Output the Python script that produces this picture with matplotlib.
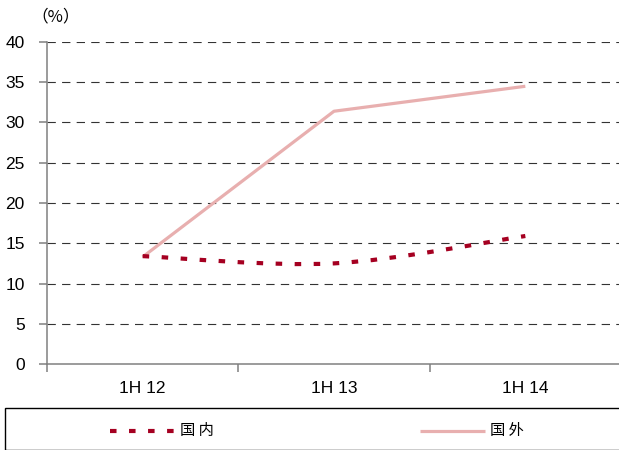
import matplotlib
matplotlib.use('Agg')
import matplotlib.pyplot as plt
from matplotlib.path import Path
from matplotlib.patches import PathPatch, Rectangle
from matplotlib.lines import Line2D

# dados
periodos = ['1H 12', '1H 13', '1H 14']
domestico = [13.4, 12.5, 15.9]   # 国内
exterior = [13.3, 31.4, 34.5]    # 国外
yticks = [0, 5, 10, 15, 20, 25, 30, 35, 40]

cor_dom = '#A50021'
cor_ext = '#E8AFAF'

plt.rcParams['font.family'] = ['Liberation Sans', 'DejaVu Sans']
plt.rcParams['lines.scale_dashes'] = False


def curva_suave(xs, ys):
    # curva tipo Excel (Catmull-Rom em Bezier)
    pts = list(zip(xs, ys))
    n = len(pts)
    verts = [pts[0]]
    codes = [Path.MOVETO]
    for i in range(n - 1):
        p0 = pts[max(i - 1, 0)]
        p1 = pts[i]
        p2 = pts[i + 1]
        p3 = pts[min(i + 2, n - 1)]
        c1 = (p1[0] + (p2[0] - p0[0]) / 6, p1[1] + (p2[1] - p0[1]) / 6)
        c2 = (p2[0] - (p3[0] - p1[0]) / 6, p2[1] - (p3[1] - p1[1]) / 6)
        verts += [c1, c2, p2]
        codes += [Path.CURVE4] * 3
    return Path(verts, codes)


fig = plt.figure(figsize=(6.19, 4.5), dpi=100)
ax = fig.add_axes([47 / 619, 1 - 364 / 450, 574 / 619, 322 / 450])

x = list(range(len(periodos)))

# grade
for v in yticks[1:]:
    ax.axhline(v, color='#333333', lw=0.8, linestyle=(0, (6, 4.5)), zorder=1)

ax.plot(x, exterior, color=cor_ext, lw=2.3, zorder=3, solid_capstyle='butt')

caminho = curva_suave(x, domestico)
ax.add_patch(PathPatch(caminho, fill=False, edgecolor=cor_dom, lw=3.0,
                       linestyle=(0, (4.7, 9)), capstyle='butt', zorder=4))

ax.set_xlim(-0.5, 2.5)
ax.set_ylim(0, 40)
ax.set_yticks(yticks)
ax.set_yticklabels([str(v) for v in yticks], fontsize=12.5)
ax.set_xticks([-0.5, 0.5, 1.5, 2.5])
ax.set_xticklabels([])
ax.set_xticks(x, minor=True)
ax.set_xticklabels(periodos, minor=True, fontsize=12.5)
ax.tick_params(axis='x', which='minor', length=0, pad=12)
ax.tick_params(axis='x', which='major', length=6, width=1.1, color='#808080')
ax.tick_params(axis='y', length=6, width=1.1, color='#808080', pad=10)

for lado in ['top', 'right']:
    ax.spines[lado].set_visible(False)
for lado in ['left', 'bottom']:
    ax.spines[lado].set_color('#808080')
    ax.spines[lado].set_linewidth(1.1)

fig.text(31 / 619, 1 - 17 / 450, '（%）', fontsize=12, va='center', ha='left',
         family=['Noto Sans CJK SC', 'DejaVu Sans'])

# legenda manual
fig.add_artist(Rectangle((5 / 619, 0), 1.0, 1 - 408 / 450, transform=fig.transFigure,
                         fill=False, edgecolor='black', lw=1.0))
yl = 1 - 431 / 450
fig.add_artist(Line2D([110 / 619, 175 / 619], [yl, yl], transform=fig.transFigure,
                      color=cor_dom, lw=3.0, linestyle=(0, (4.7, 9)), dash_capstyle='butt'))
fig.text(180 / 619, yl, '国 内', fontsize=11, va='center', ha='left',
         family=['Noto Sans CJK SC', 'DejaVu Sans'])
fig.add_artist(Line2D([420 / 619, 485 / 619], [yl, yl], transform=fig.transFigure,
                      color=cor_ext, lw=2.3, solid_capstyle='butt'))
fig.text(490 / 619, yl, '国 外', fontsize=11, va='center', ha='left',
         family=['Noto Sans CJK SC', 'DejaVu Sans'])

fig.savefig('out.png', dpi=100)
